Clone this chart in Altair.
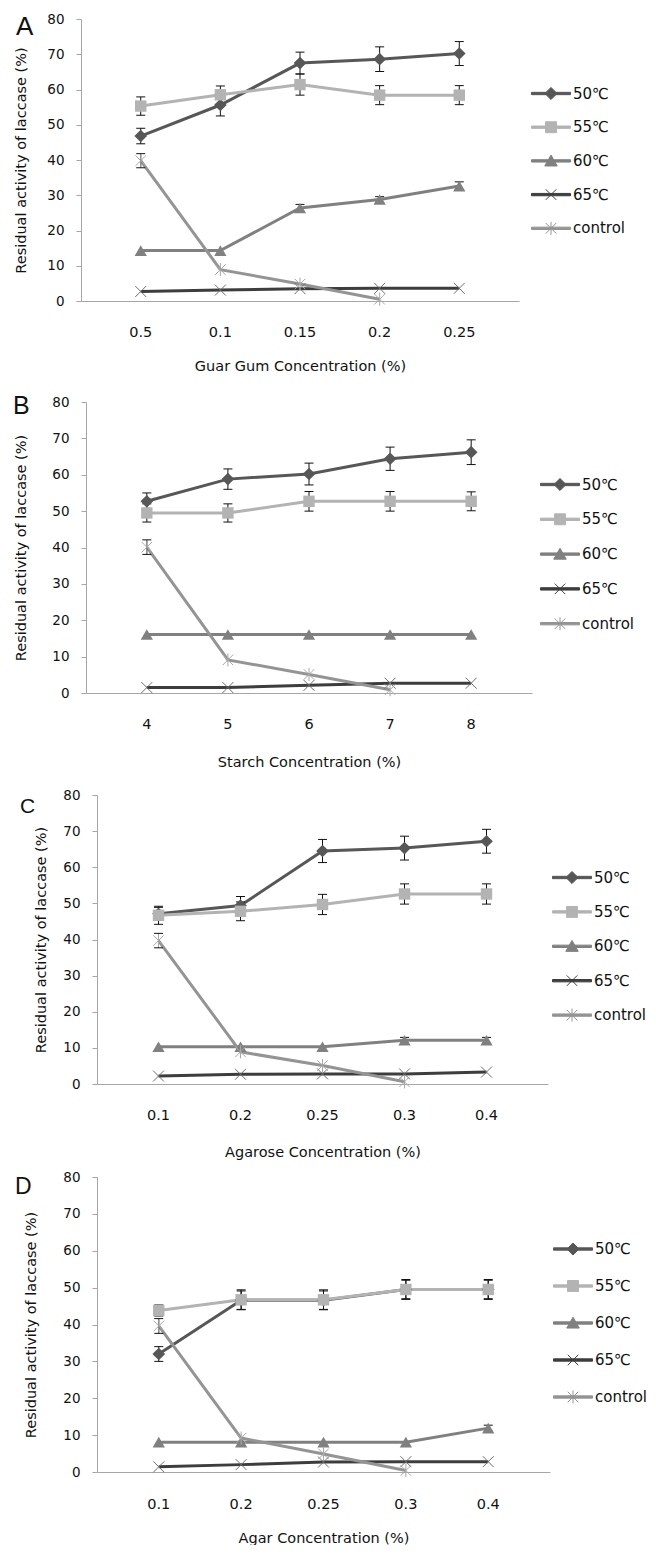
import altair as alt
import pandas as pd

# ---------------- data ----------------
SERIES = ["50℃", "55℃", "60℃", "65℃", "control"]

A_X = ["0.5", "0.1", "0.15", "0.2", "0.25"]
A_50 = [46.8, 55.6, 67.5, 68.6, 70.2]
A_55 = [55.3, 58.5, 61.4, 58.4, 58.4]
A_60 = [14.3, 14.3, 26.4, 28.8, 32.6]
A_65 = [2.7, 3.1, 3.5, 3.6, 3.6]
A_CT = [39.8, 8.9, 4.8, 0.5]
A_50E = [2.2, 3.1, 3.1, 3.5, 3.4]
A_55E = [2.6, 2.5, 3.0, 2.7, 2.7]
A_60E = [0, 0, 1.0, 0.8, 1.2]
A_65E = [0, 0, 0, 0, 0]
A_CTE = [2.0, 0, 0, 0]

B_X = ["4", "5", "6", "7", "8"]
B_50 = [52.7, 58.8, 60.2, 64.4, 66.2]
B_55 = [49.5, 49.5, 52.7, 52.7, 52.7]
B_60 = [16.1, 16.1, 16.1, 16.1, 16.1]
B_65 = [1.5, 1.5, 2.1, 2.7, 2.7]
B_CT = [40.1, 9.1, 5.1, 0.9]
B_50E = [2.3, 2.8, 3.0, 3.2, 3.4]
B_55E = [2.5, 2.5, 2.7, 2.7, 2.6]
B_60E = [0, 0, 0, 0, 0]
B_65E = [0, 0, 0, 0, 0]
B_CTE = [2.0, 0, 0, 0]

C_X = ["0.1", "0.2", "0.25", "0.3", "0.4"]
C_50 = [47.1, 49.4, 64.5, 65.3, 67.2]
C_55 = [46.7, 47.8, 49.7, 52.6, 52.6]
C_60 = [10.3, 10.3, 10.3, 12.1, 12.1]
C_65 = [2.2, 2.7, 2.8, 2.8, 3.3]
C_CT = [39.7, 8.9, 5.1, 0.6]
C_50E = [1.8, 2.5, 3.2, 3.3, 3.3]
C_55E = [2.5, 2.6, 2.8, 2.8, 2.8]
C_60E = [0, 0, 0, 0.8, 0.8]
C_65E = [0, 0, 0, 0, 0]
C_CTE = [2.0, 0, 0, 0]

D_X = ["0.1", "0.2", "0.25", "0.3", "0.4"]
D_50 = [32.0, 46.6, 46.6, 49.5, 49.5]
D_55 = [43.8, 46.7, 46.7, 49.5, 49.5]
D_60 = [8.1, 8.1, 8.1, 8.1, 11.9]
D_65 = [1.4, 2.0, 2.7, 2.8, 2.8]
D_CT = [39.6, 9.2, 4.9, 0.4]
D_50E = [2.0, 2.5, 2.5, 2.5, 2.5]
D_55E = [1.5, 2.7, 2.7, 2.7, 2.7]
D_60E = [0, 0, 0, 0, 0.8]
D_65E = [0, 0, 0, 0, 0]
D_CTE = [2.0, 0, 0, 0]

# ---------------- style ----------------
FONT = "DejaVu Sans"
TXT = "#111111"
YTITLE = "Residual activity of laccase (%)"
LINE_COLORS = ["#575757", "#b3b3b3", "#808080", "#3d3d3d", "#949494"]
MARK_COLORS = ["#575757", "#b3b3b3", "#808080", "#6e6e6e", "#a8a8a8"]
X_PATH = "M-1,-1L1,1M-1,1L1,-1"
AST_PATH = "M-1,-1L1,1M-1,1L1,-1M0,-1.25L0,1.25"
MARK_SHAPES = ["diamond", "square", "triangle-up", X_PATH, AST_PATH]
MARK_FILLED = [True, True, True, False, False]
MARK_SIZES = [160, 130, 150, 120, 110]
LINE_RECT = "M-1,-0.06H1V0.06H-1Z"
LEGEND_PATHS = [
    LINE_RECT + "M0,-0.31L0.31,0L0,0.31L-0.31,0Z",
    LINE_RECT + "M-0.28,-0.28H0.28V0.28H-0.28Z",
    LINE_RECT + "M0,-0.3L0.32,0.26H-0.32Z",
    LINE_RECT + "M-0.27,-0.27L0.27,0.27M-0.27,0.27L0.27,-0.27",
    LINE_RECT + "M-0.27,-0.27L0.27,0.27M-0.27,0.27L0.27,-0.27M0,-0.33V0.33",
]


def series_frame(cats, vals, errs):
    rows = []
    for c, v, e in zip(cats, vals, errs):
        rows.append({"x": c, "v": v, "lo": v - e, "hi": v + e, "e": e})
    return pd.DataFrame(rows)


def spacer(w, h):
    return (
        alt.Chart(pd.DataFrame({"s": [0]}))
        .mark_point(size=0, opacity=0)
        .encode(x=alt.value(0), y=alt.value(0))
        .properties(width=w, height=h)
    )


def panel(letter, cats, vals, errs, xtitle, cfg):
    W, H = cfg["W"], cfg["H"]
    xaxis = alt.Axis(
        title=xtitle, labelAngle=0, ticks=False, tickSize=0, labelPadding=cfg["xlp"],
        labelFontSize=14.5, titleFontSize=14.5, titleX=W / 2, titleY=cfg["xt"],
        titleBaseline="middle", titleAlign="center",
    )
    yaxis = alt.Axis(
        title=YTITLE, values=list(range(0, 81, 10)),
        tickSize=5, labelPadding=12, labelFontSize=13.5, titleFontSize=14.5,
        titleX=cfg["yt"], titleY=H / 2, titleBaseline="middle", titleAngle=270,
        titleAlign="center",
    )
    xenc = alt.X("x:N", sort=cats, scale=alt.Scale(domain=cats, padding=0.5), axis=xaxis)
    ysc = alt.Scale(domain=[0, 80], nice=False, zero=True)

    def yenc(f):
        return alt.Y(f + ":Q", scale=ysc, axis=yaxis, title=YTITLE)

    frames = [series_frame(cats, v, e) for v, e in zip(vals, errs)]
    layers = []
    for i, df in enumerate(frames):
        layers.append(
            alt.Chart(df).mark_line(color=LINE_COLORS[i], strokeWidth=3)
            .encode(x=xenc, y=yenc("v"))
        )
    edf = pd.concat(frames, ignore_index=True)
    edf = edf[edf["e"] > 0]
    layers.append(
        alt.Chart(edf).mark_rule(color="#111111", strokeWidth=1)
        .encode(x=xenc, y=yenc("lo"), y2="hi:Q")
    )
    for fld in ["lo", "hi"]:
        layers.append(
            alt.Chart(edf).mark_tick(color="#111111", thickness=1, size=9, orient="horizontal", opacity=1)
            .encode(x=xenc, y=yenc(fld))
        )
    for i, df in enumerate(frames):
        layers.append(
            alt.Chart(df).mark_point(
                shape=MARK_SHAPES[i], filled=MARK_FILLED[i], size=MARK_SIZES[i],
                color=MARK_COLORS[i], strokeWidth=1, opacity=1,
            ).encode(x=xenc, y=yenc("v"))
        )
    leg = alt.Legend(
        title=None, orient="none", legendX=cfg["legx"], legendY=cfg["legy"],
        symbolSize=1521, symbolStrokeWidth=1, symbolOpacity=1, clipHeight=20,
        rowPadding=cfg["rowpad"], labelFontSize=15, labelFont=FONT, labelColor=TXT,
        labelOffset=2, padding=0,
    )
    layers.append(
        alt.Chart(pd.DataFrame({"series": SERIES})).transform_filter("false")
        .mark_point(filled=True, opacity=1, strokeWidth=1)
        .encode(
            fill=alt.Fill("series:N", scale=alt.Scale(domain=SERIES, range=LINE_COLORS), legend=leg),
            stroke=alt.Stroke("series:N", scale=alt.Scale(domain=SERIES, range=LINE_COLORS), legend=leg),
            shape=alt.Shape("series:N", scale=alt.Scale(domain=SERIES, range=LEGEND_PATHS), legend=leg),
        )
    )
    layers.append(
        alt.Chart(pd.DataFrame({"t": [letter]}))
        .mark_text(align="left", baseline="alphabetic", font="Liberation Sans",
                   fontSize=cfg["lfs"], color=TXT, x=cfg["lx"], y=cfg["ly"])
        .encode(text="t:N")
    )
    return alt.layer(*layers).properties(width=W, height=H)


CFG_A = dict(W=438, H=282, xt=65.5, xlp=24, yt=-60, legx=450, legy=64.5, rowpad=13.7, lx=-65, ly=16.3, lfs=26)
CFG_B = dict(W=446, H=291, xt=69, xlp=24, yt=-65, legx=454, legy=72.5, rowpad=14.8, lx=-73, ly=12, lfs=25)
CFG_C = dict(W=451, H=289, xt=68, xlp=24, yt=-56, legx=455, legy=72.5, rowpad=14.4, lx=-77, ly=17.5, lfs=21)
CFG_D = dict(W=453, H=295, xt=66, xlp=25, yt=-65.5, legx=456, legy=62, rowpad=17, lx=-82, ly=16.5, lfs=23)

pA = panel("A", A_X, [A_50, A_55, A_60, A_65, A_CT], [A_50E, A_55E, A_60E, A_65E, A_CTE],
           "Guar Gum  Concentration (%)", CFG_A)
pB = panel("B", B_X, [B_50, B_55, B_60, B_65, B_CT], [B_50E, B_55E, B_60E, B_65E, B_CTE],
           "Starch Concentration  (%)", CFG_B)
pC = panel("C", C_X, [C_50, C_55, C_60, C_65, C_CT], [C_50E, C_55E, C_60E, C_65E, C_CTE],
           "Agarose Concentration (%)", CFG_C)
pD = panel("D", D_X, [D_50, D_55, D_60, D_65, D_CT], [D_50E, D_55E, D_60E, D_65E, D_CTE],
           "Agar Concentration (%)", CFG_D)

IND = dict(fill="independent", stroke="independent", shape="independent")


def row(w, p):
    return alt.hconcat(spacer(w, 1), p, spacing=0).resolve_scale(**IND)


chart = (
    alt.vconcat(
        row(1, pA), spacer(1, 21),
        row(1, pB), spacer(1, 19),
        row(8, pC), spacer(1, 11),
        row(3, pD),
        spacing=0,
    )
    .resolve_scale(x="independent", y="independent", **IND)
    .properties(padding={"left": 4, "top": 4, "right": 0, "bottom": 0}, background="white")
    .configure_view(stroke=None)
    .configure_axis(
        grid=False, domainColor="#a6a6a6", tickColor="#a6a6a6", domainWidth=1,
        labelFont=FONT, titleFont=FONT, titleFontWeight="normal",
        labelColor=TXT, titleColor=TXT,
    )
)

chart.save("out.html", embed_options={"renderer": "svg", "actions": False})
